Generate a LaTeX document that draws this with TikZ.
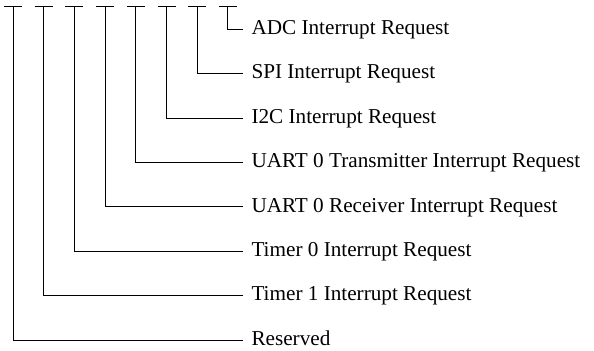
\documentclass[tikz,border=0pt]{standalone}
\usepackage{fontspec}
\setmainfont{Liberation Serif}
\usetikzlibrary{positioning}

\begin{document}
\begin{tikzpicture}[x=0.5pt,y=-0.5pt,line width=0.5pt,
    font=\fontsize{10.6}{12}\selectfont,
    bitlabel/.style={anchor=west,inner sep=4pt,text height=1.45ex,text depth=0.3ex}]
    \useasboundingbox (0,0) rectangle (594,350);
    \def\ytop{6}      % top of the bit lines
    \def\dx{30.7}     % distance between two bits
    \def\dy{44.4}     % distance between two labels
    \def\xend{243}    % where the leader lines stop
    \def\halfbar{4.5pt} % half width of the top bars

    %======================================================
    % bits, from the lowest line up
    %======================================================
    \foreach \lbl [count=\i from 0] in {Reserved,
        Timer 1 Interrupt Request,
        Timer 0 Interrupt Request,
        UART 0 Receiver Interrupt Request,
        UART 0 Transmitter Interrupt Request,
        I2C Interrupt Request,
        SPI Interrupt Request,
        ADC Interrupt Request}{
        \pgfmathsetmacro{\xb}{13+\dx*\i}
        \pgfmathsetmacro{\yb}{340-\dy*\i}

        % top bar of the bit
        \coordinate (t\i) at (\xb,\ytop);
        \draw ([xshift=-\halfbar]t\i) -- ([xshift=\halfbar]t\i);

        % label and leader line
        \node[bitlabel] (l\i) at (\xend,\yb) {\lbl};
        \draw (t\i) |- (l\i.west);
    }
\end{tikzpicture}
\end{document}
